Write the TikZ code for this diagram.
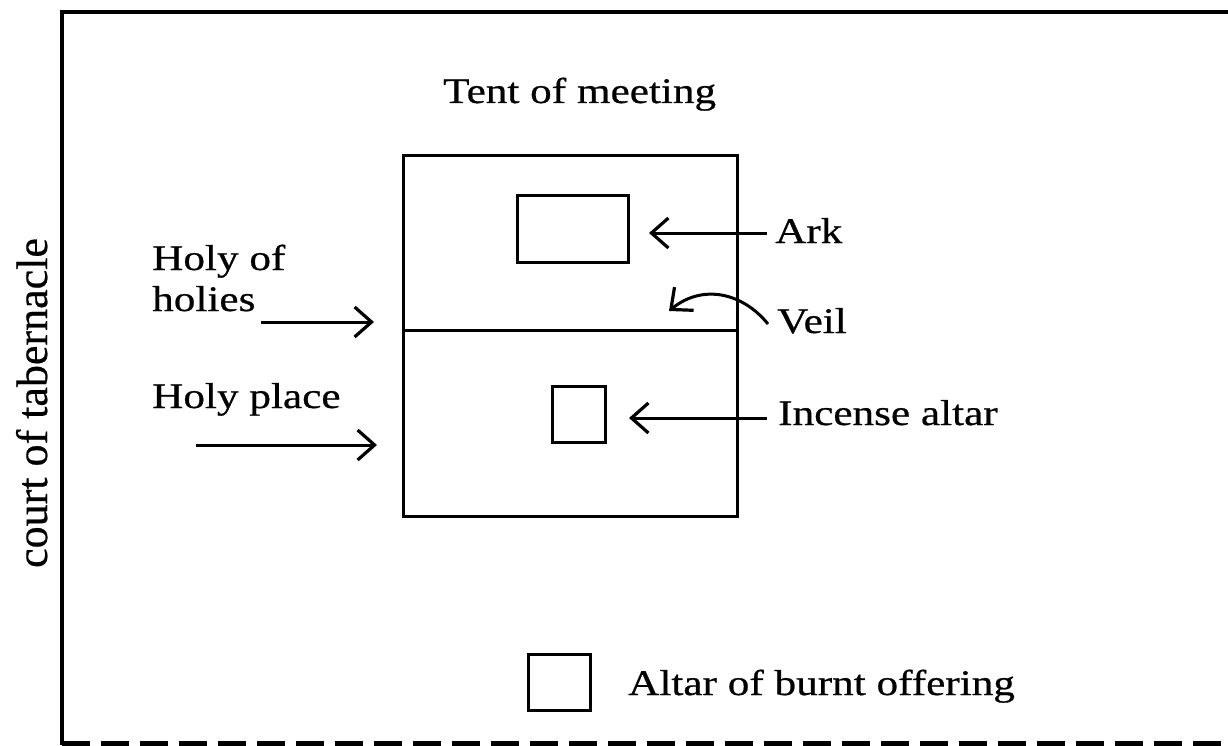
\documentclass[tikz,border=0pt]{standalone}
\usepackage{fontspec}
\usetikzlibrary{arrows.meta}
\newfontfamily\tf[FakeStretch=1.2,FakeBold=0.6]{Liberation Serif}
\newfontfamily\cf[FakeBold=0.5]{Liberation Serif}
\tikzset{
  lbl/.style={inner sep=0pt, anchor=base west, font=\tf\fontsize{36}{36}\selectfont},
  boxnode/.style={draw, line width=3pt, inner sep=0pt},
  arr/.style={line width=3pt, -{Straight Barb[length=17pt,width=30pt,line width=3.2pt]}},
  frameline/.style={line width=4pt}
}
\begin{document}
\begin{tikzpicture}[x=1pt,y=-1pt]
\useasboundingbox (0,0) rectangle (1228,746);
% outer court frame
\coordinate (tl) at (62,12);
\coordinate (tr) at (1228,12);
\coordinate (bl) at (62,743);
\coordinate (br) at (1228,743);
\draw[frameline, line cap=rect] (tr) -- (tl) -- (bl);
\draw[line width=5pt, dash pattern=on 28pt off 11pt] (bl) -- (br);
\node[inner sep=0pt, anchor=base, rotate=90, font=\cf\fontsize{44}{44}\selectfont] (court) at (47,403) {court of tabernacle};
% tent of meeting
\node[lbl] (tentlbl) at (443,103) {Tent of meeting};
\node[boxnode, minimum width=334pt, minimum height=360pt] (tent) at (570,336) {};
\coordinate (div) at (570,330);
\draw[line width=3pt] (tent.west |- div) -- (tent.east |- div);
% ark
\node[boxnode, minimum width=111pt, minimum height=66pt] (arkbox) at (572.5,229) {};
\node[lbl] (ark) at (775,243) {Ark};
\coordinate (arkA) at (767,233);
\coordinate (arkB) at (649,233);
\draw[arr] (arkA) -- (arkB);
% veil
\node[lbl] (veil) at (777,333) {Veil};
\coordinate (veilA) at (768,324);
\coordinate (veilB) at (669,311);
\draw[arr] (veilA) .. controls (742,292) and (702,284) .. (veilB);
% incense altar
\node[boxnode, minimum width=53pt, minimum height=56pt] (incbox) at (578.5,414) {};
\node[lbl] (inc) at (778,425) {Incense altar};
\coordinate (incA) at (767,418);
\coordinate (incB) at (629,418);
\draw[arr] (incA) -- (incB);
% holy of holies
\node[lbl] (hoh1) at (152,270) {Holy of};
\node[lbl] (hoh2) at (152,311) {holies};
\coordinate (hohA) at (261,322);
\coordinate (hohB) at (374,322);
\draw[arr] (hohA) -- (hohB);
% holy place
\node[lbl] (hp) at (152,408) {Holy place};
\coordinate (hpA) at (196,445);
\coordinate (hpB) at (377,445);
\draw[arr] (hpA) -- (hpB);
% altar of burnt offering
\node[boxnode, minimum width=62pt, minimum height=56pt] (burnbox) at (559,682) {};
\node[lbl] (burn) at (628,695) {Altar of burnt offering};
\end{tikzpicture}
\end{document}
